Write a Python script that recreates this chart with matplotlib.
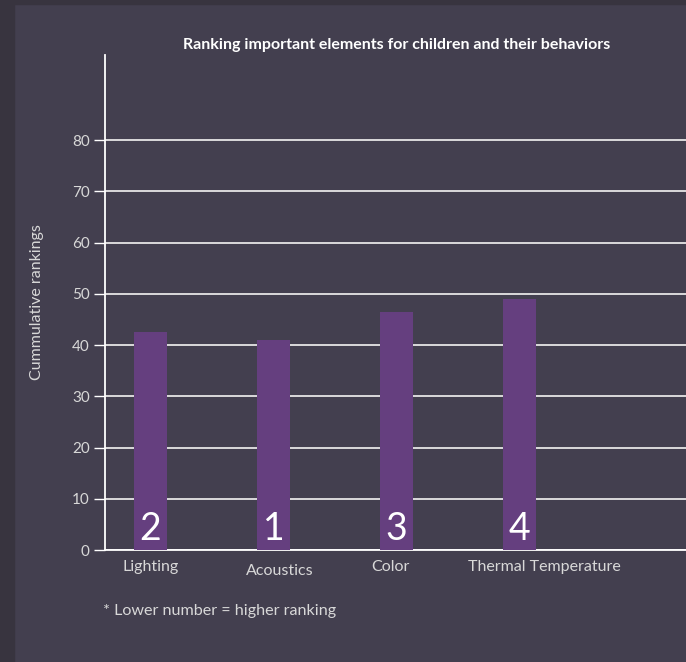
import matplotlib
matplotlib.use("Agg")
import matplotlib.pyplot as plt
from matplotlib.patches import Rectangle
from matplotlib.transforms import blended_transform_factory

# ---------------------------------------------------------------------------
# Data
# ---------------------------------------------------------------------------
CATEGORIES = ["Lighting", "Acoustics", "Color", "Thermal Temperature"]
CUMULATIVE = [42.5, 41.0, 46.4, 49.0]
RANKS = ["2", "1", "3", "4"]
Y_TICKS = [0, 10, 20, 30, 40, 50, 60, 70, 80]

BG = "#433f4f"
STRIP = "#38343f"
BAR = "#653f7f"
TEXT = "#d8d8d8"

plt.rcParams["font.family"] = ["Lato", "DejaVu Sans"]

fig = plt.figure(figsize=(6.86, 6.62), dpi=100, facecolor=BG)
# darker frame strips on the left and top
fig.patches.append(Rectangle((0, 0), 14 / 686, 1, transform=fig.transFigure,
                             color=STRIP, zorder=0))
fig.patches.append(Rectangle((0, 1 - 4 / 662), 1, 4 / 662,
                             transform=fig.transFigure, color=STRIP, zorder=0))

ax = fig.add_axes([105 / 686, 1 - 550 / 662, 1 - 105 / 686, 495 / 662])
ax.set_facecolor(BG)

x = list(range(len(CATEGORIES)))
ax.bar(x, CUMULATIVE, width=0.27, color=BAR, zorder=3)

ax.set_xlim(-0.37, 4.35)
ax.set_ylim(0, 96.6)
ax.set_yticks(Y_TICKS)
ax.set_yticklabels([str(t) for t in Y_TICKS], color=TEXT, fontsize=11)
ax.tick_params(axis="y", length=8, width=1, color="white", pad=3)
ax.set_xticks([])
ax.grid(axis="y", color="#e6e6e6", linewidth=1.3, zorder=1)

for side in ("top", "right"):
    ax.spines[side].set_visible(False)
for side in ("left", "bottom"):
    ax.spines[side].set_color("white")
    ax.spines[side].set_linewidth(1.3)

# rank numbers inside the bars
for xi, r in zip(x, RANKS):
    ax.text(xi, 0.5, r, ha="center", va="bottom", color="white",
            fontsize=27, zorder=4)

# category labels (slightly irregular placement as in original)
trans = blended_transform_factory(ax.transData, ax.transAxes)
label_dx = [0.0, 0.05, -0.05, 0.2]
label_dy = [-0.035, -0.043, -0.035, -0.035]
for xi, lab, dx, dy in zip(x, CATEGORIES, label_dx, label_dy):
    ax.text(xi + dx, dy, lab, transform=trans, ha="center", va="center",
            color=TEXT, fontsize=11.5)

ax.set_ylabel("Cummulative rankings", color=TEXT, fontsize=11.5, labelpad=20)

fig.text(397 / 686, 1 - 45 / 662,
         "Ranking important elements for children and their behaviors",
         ha="center", va="center", color="white", fontsize=11.5,
         fontweight="bold")
fig.text(103 / 686, 1 - 611 / 662, "* Lower number = higher ranking",
         ha="left", va="center", color=TEXT, fontsize=11.6)

fig.savefig("out.png", dpi=100, facecolor=BG)
plt.close("all")
